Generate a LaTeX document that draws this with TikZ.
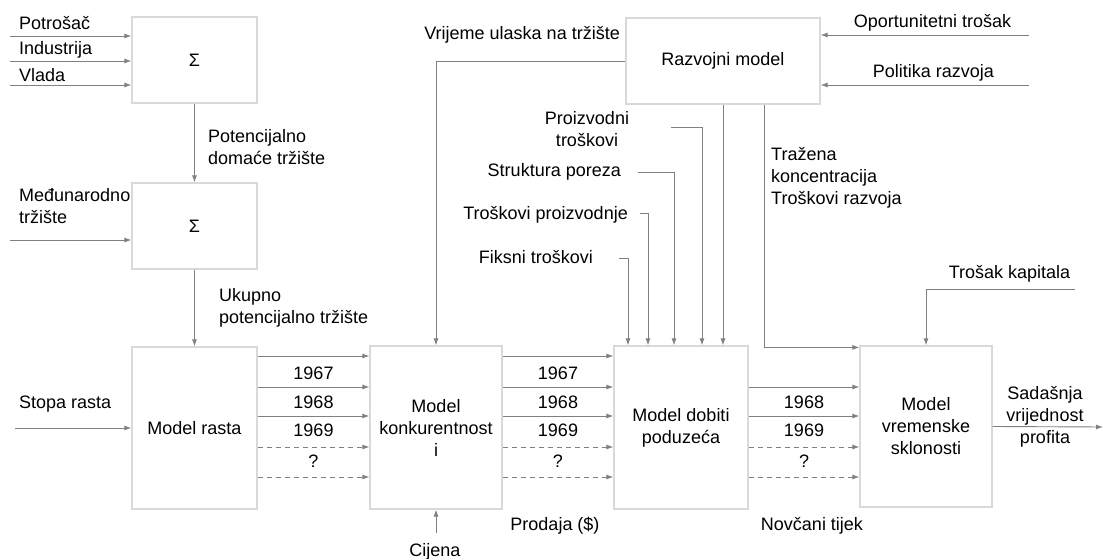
\documentclass[tikz,border=0pt]{standalone}
\usepackage{fontspec}
\setmainfont{Liberation Sans}
\usetikzlibrary{arrows.meta}
\definecolor{linegray}{HTML}{808080}
\definecolor{boxgray}{HTML}{D9D9D9}
\begin{document}
\begin{tikzpicture}[x=1pt,y=-1pt,
    font=\fontsize{18}{22}\selectfont,
    block/.style={draw=boxgray,line width=1.2pt,fill=white,align=center,inner sep=0pt},
    arr/.style={draw=linegray,line width=0.9pt,-{Latex[length=7pt,width=5pt]}},
    dasharr/.style={arr,dash pattern=on 5pt off 4pt},
    lbl/.style={inner sep=0pt,align=left}]
    \useasboundingbox (0,0) rectangle (1104,559);
    \node[block,minimum width=125pt,minimum height=86pt] (sumA) at (194.5,60) {Σ};
    \node[block,minimum width=125pt,minimum height=86pt] (sumB) at (194.5,226) {Σ};
    \node[block,minimum width=125pt,minimum height=162pt] (rast) at (194.5,428) {Model rasta};
    \node[block,minimum width=132pt,minimum height=163pt] (konk) at (436,427.5) {Model\\konkurentnost\\i};
    \node[block,minimum width=134pt,minimum height=163pt] (dobit) at (681,427.5) {Model dobiti\\poduzeća};
    \node[block,minimum width=132pt,minimum height=161pt] (vrem) at (926,426.5) {Model\\vremenske\\sklonosti};
    \node[block,minimum width=194pt,minimum height=86pt] (razv) at (723,61) {Razvojni model};
    \node[lbl,anchor=base west] (pot) at (19,30) {Potrošač};
    \node[lbl,anchor=base west] (ind) at (19,55) {Industrija};
    \node[lbl,anchor=base west] (vla) at (19,82) {Vlada};
    \node[lbl,anchor=west] (domace) at (208,147) {Potencijalno\\domaće tržište};
    \node[lbl,anchor=west] (medj) at (19,206) {Međunarodno\\tržište};
    \node[lbl,anchor=west] (ukupno) at (219,308) {Ukupno\\potencijalno tržište};
    \node[lbl,anchor=base west] (stopa) at (19,408) {Stopa rasta};
    \node[lbl,anchor=base east] (ulazak) at (620,40) {Vrijeme ulaska na tržište};
    \node[lbl,anchor=base] (oport) at (932.5,28) {Oportunitetni trošak};
    \node[lbl,anchor=base] (polit) at (933.5,78) {Politika razvoja};
    \node[lbl,align=center] (proizv) at (587,129) {Proizvodni\\troškovi};
    \node[lbl,anchor=base east] (porez) at (621,177) {Struktura poreza};
    \node[lbl,anchor=base east] (trproiz) at (628,219) {Troškovi proizvodnje};
    \node[lbl,anchor=base east] (fiksni) at (593,263) {Fiksni troškovi};
    \node[lbl,anchor=west] (trazena) at (771,178) {Tražena\\koncentracija\\Troškovi razvoja};
    \node[lbl,anchor=base] (kapital) at (1009.5,278) {Trošak kapitala};
    \node[lbl,align=center] (sadasnja) at (1045,417) {Sadašnja\\vrijednost\\profita};
    \node[lbl,anchor=base] (prodaja) at (555,530) {Prodaja (\$)};
    \node[lbl,anchor=base] (cijena) at (435,556) {Cijena};
    \node[lbl,anchor=base] (novcani) at (812,530) {Novčani tijek};
    \foreach \t/\b [count=\i] in {1967/379,1968/408,1969/436,?/467} {
      \node[lbl,anchor=base] (ya\i) at (313.5,\b) {\t};
      \node[lbl,anchor=base] (yb\i) at (558,\b) {\t};
    }
    \foreach \t/\b [count=\i] in {1968/408,1969/436,?/467}
      \node[lbl,anchor=base] (yc\i) at (804,\b) {\t};
    \coordinate (inPot) at (10,36);
    \coordinate (inInd) at (10,61);
    \coordinate (inVla) at (10,85);
    \coordinate (inMed) at (10,240);
    \coordinate (inStopa) at (15,428);
    \coordinate (inCij) at (436,533);
    \coordinate (inOp) at (1029,35);
    \coordinate (inPol) at (1029,85);
    \coordinate (inKap) at (1075,289);
    \coordinate (inFiks) at (619,258);
    \coordinate (inTrP) at (640,213);
    \coordinate (inStr) at (638,172);
    \coordinate (inPro) at (671,127);
    \coordinate (outSad) at (1103,427);
    \foreach \c in {inPot,inInd,inVla}
      \draw[arr] (\c) -- (\c -| sumA.west);
    \draw[arr] (inMed) -- (inMed -| sumB.west);
    \draw[arr] (sumA) -- (sumB);
    \draw[arr] (sumB) -- (rast);
    \draw[arr] (inStopa) -- (rast.west);
    \foreach \r in {356,387,416} {
      \draw[arr] (rast.east |- 0,\r) -- (konk.west |- 0,\r);
      \draw[arr] (konk.east |- 0,\r) -- (dobit.west |- 0,\r);
    }
    \foreach \r in {447,477} {
      \draw[dasharr] (rast.east |- 0,\r) -- (konk.west |- 0,\r);
      \draw[dasharr] (konk.east |- 0,\r) -- (dobit.west |- 0,\r);
      \draw[dasharr] (dobit.east |- 0,\r) -- (vrem.west |- 0,\r);
    }
    \foreach \r in {387,416}
      \draw[arr] (dobit.east |- 0,\r) -- (vrem.west |- 0,\r);
    \draw[arr] (inCij) -- (konk.south);
    \draw[arr] (razv.west) -| (konk.north);
    \draw[arr] (inOp) -- (inOp -| razv.east);
    \draw[arr] (inPol) -- (inPol -| razv.east);
    \draw[arr] (inFiks) -| (dobit.north -| 628,0);
    \draw[arr] (inTrP) -| (dobit.north -| 648,0);
    \draw[arr] (inStr) -| (dobit.north -| 674,0);
    \draw[arr] (inPro) -| (dobit.north -| 702,0);
    \draw[arr] (razv.south) -- (razv.south |- dobit.north);
    \draw[arr] ([xshift=41pt]razv.south) |- ([yshift=-2pt]vrem.north west);
    \draw[arr] (inKap) -| (vrem.north);
    \draw[arr] (vrem.east) -- (outSad);
\end{tikzpicture}
\end{document}
